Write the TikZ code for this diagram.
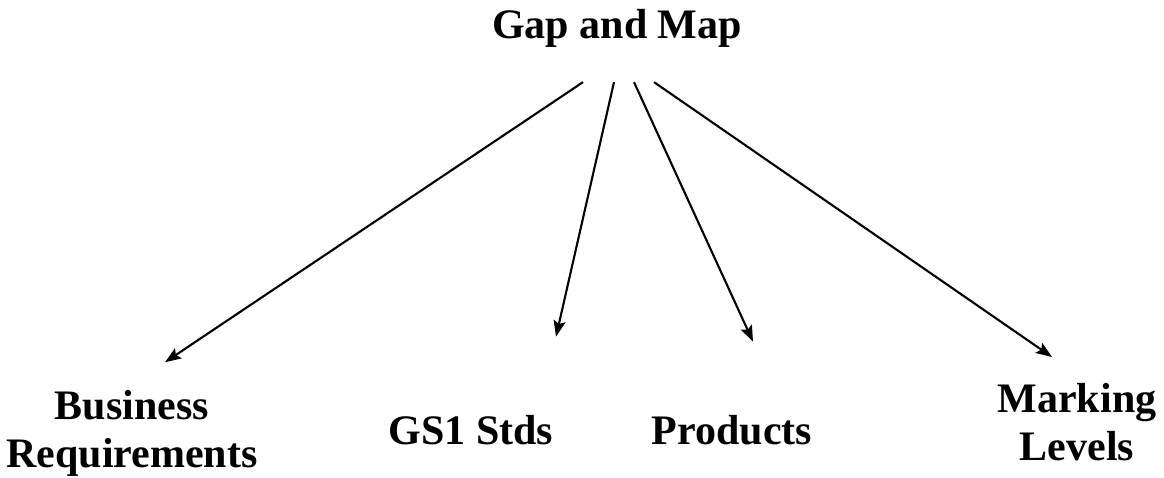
\documentclass[tikz,border=0pt]{standalone}
\usepackage{fontspec}
\setmainfont{Liberation Serif}
\usetikzlibrary{arrows.meta}
\begin{document}
\begin{tikzpicture}[x=1pt,y=1pt,
  lbl/.style={inner sep=0pt, font=\fontsize{42}{48}\selectfont\bfseries, align=center},
  arr/.style={line width=2.1pt, -{Stealth[length=16pt,width=12pt,inset=3pt]}}]
\useasboundingbox (0,0) rectangle (1164,478);
\node[lbl, anchor=base] (gap) at (617,439) {Gap and Map};
\node[lbl] (br) at (132,44.5) {Business\\Requirements};
\node[lbl, anchor=base] (gs1) at (471,33) {GS1 Stds};
\node[lbl, anchor=base] (prod) at (732,33) {Products};
\node[lbl] (ml) at (1077,56) {Marking\\Levels};
\draw[arr] ([shift={(-34,-34)}]gap.south) -- ([shift={(33,28)}]br.north);
\draw[arr] ([shift={(-3,-34)}]gap.south) -- ([shift={(85,79)}]gs1.north);
\draw[arr] ([shift={(17,-34)}]gap.south) -- ([shift={(21,74)}]prod.north);
\draw[arr] ([shift={(37,-34)}]gap.south) -- ([shift={(-25,26)}]ml.north);
\end{tikzpicture}
\end{document}
